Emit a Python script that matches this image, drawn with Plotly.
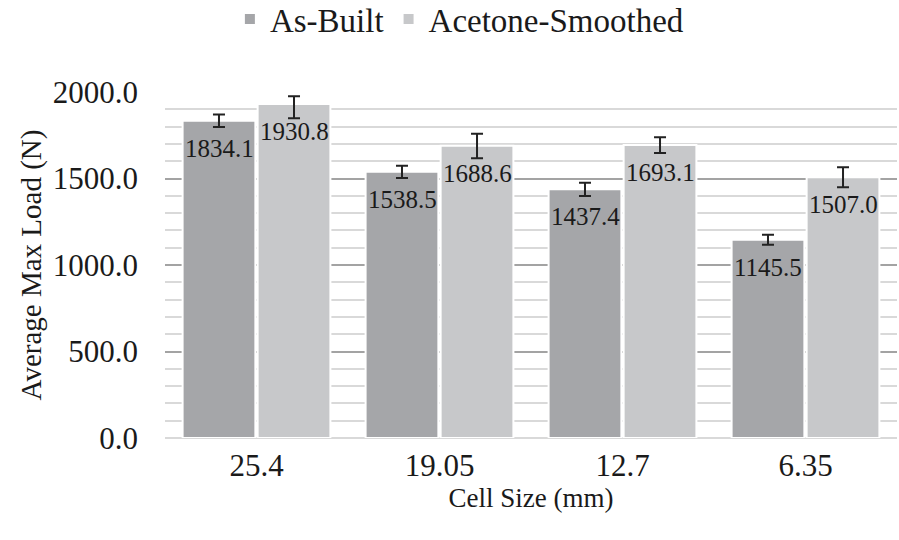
import plotly.graph_objects as go

categories = ["25.4", "19.05", "12.7", "6.35"]
as_built = [1834.1, 1538.5, 1437.4, 1145.5]
as_built_err = [36, 35, 38, 29]
acetone = [1930.8, 1688.6, 1693.1, 1507.0]
acetone_err_plus = [44, 70, 46, 58]
acetone_err_minus = [82, 72, 46, 58]

FONT = "Liberation Serif"
TXT = "#1a1a1a"
C_A = "#A5A6A9"
C_B = "#C7C8CA"

fig = go.Figure()
fig.add_trace(go.Bar(
    name="As-Built", x=categories, y=as_built,
    marker=dict(color=C_A, line=dict(color="white", width=2)),
    error_y=dict(type="data", array=as_built_err, color="#222222", thickness=2, width=6),
))
fig.add_trace(go.Bar(
    name="Acetone-Smoothed", x=categories, y=acetone,
    marker=dict(color=C_B, line=dict(color="white", width=2)),
    error_y=dict(type="data", symmetric=False, array=acetone_err_plus,
                 arrayminus=acetone_err_minus, color="#222222", thickness=2, width=6),
))

annotations = []
for series, shift in ((as_built, -37.5), (acetone, 37.5)):
    for i, v in enumerate(series):
        annotations.append(dict(
            x=i, y=v, xref="x", yref="y", text=f"{v:.1f}", showarrow=False,
            xshift=shift, yshift=-12, yanchor="top", xanchor="center",
            font=dict(family=FONT, size=25, color=TXT),
        ))

fig.update_layout(
    width=899, height=540,
    margin=dict(l=165, r=2, t=92, b=102, autoexpand=False),
    paper_bgcolor="white", plot_bgcolor="white",
    barmode="group", bargap=0.18, bargroupgap=0.03,
    font=dict(family=FONT, size=31, color=TXT),
    showlegend=True,
    legend=dict(
        orientation="h", xref="container", yref="container",
        x=0.511, xanchor="center", y=1 - 19 / 540, yanchor="middle",
        font=dict(family=FONT, size=33, color=TXT),
        itemwidth=30, traceorder="normal",
    ),
    annotations=annotations,
    xaxis=dict(
        type="category", showgrid=False, showline=False, ticks="",
        automargin=False, ticklabelstandoff=6,
        tickfont=dict(family=FONT, size=31, color=TXT),
        title=dict(text="Cell Size (mm)", font=dict(family=FONT, size=27, color=TXT), standoff=0),
    ),
    yaxis=dict(
        range=[0, 2000], dtick=500, tickformat=".1f",
        showgrid=True, gridcolor="#A3A3A3", gridwidth=2,
        minor=dict(dtick=100, showgrid=True, gridcolor="#D9D9D9", gridwidth=2),
        zeroline=True, zerolinecolor="#D9D9D9", zerolinewidth=2,
        showline=False, ticks="",
        automargin=False, ticklabelstandoff=26,
        tickfont=dict(family=FONT, size=31, color=TXT),
        title=dict(text="Average Max Load (N)", font=dict(family=FONT, size=29, color=TXT), standoff=2),
    ),
)

fig.write_html(
    "out.html",
    config={"displayModeBar": False},
    post_script="document.body.style.margin='0';document.body.style.overflow='hidden';",
)
